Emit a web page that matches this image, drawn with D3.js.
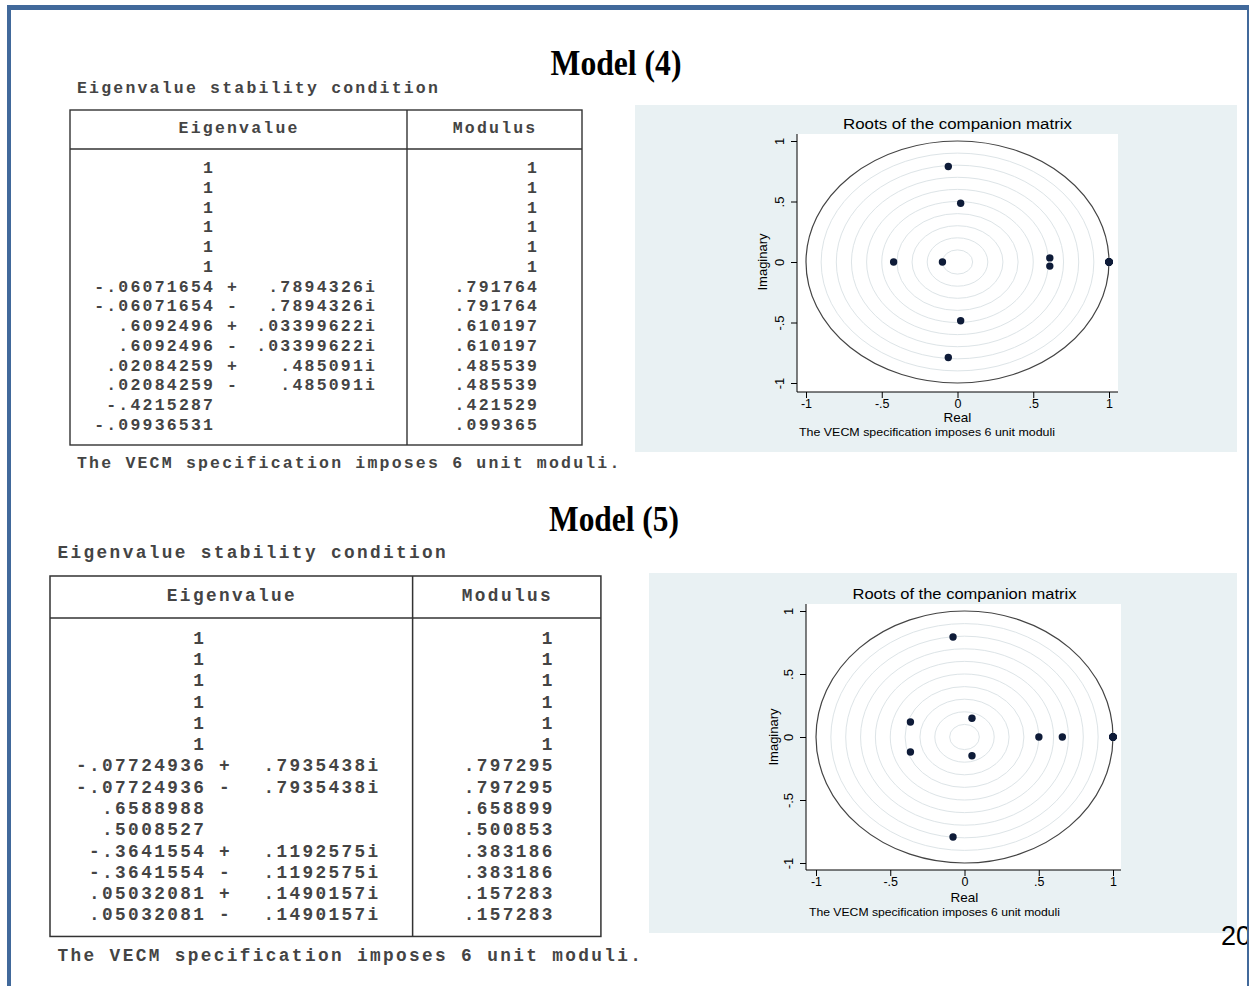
<!DOCTYPE html>
<html>
<head>
<meta charset="utf-8">
<script src="https://cdn.jsdelivr.net/npm/d3@7"></script>
<style>
  html, body { margin: 0; padding: 0; background: #fff; }
  svg { display: block; }
</style>
</head>
<body>
<div id="chart"></div>
<script>
// Model (4) eigenvalues: real part, imaginary part, modulus
const real4 = [1, 1, 1, 1, 1, 1, -.06071654, -.06071654, .6092496, .6092496, .02084259, .02084259, -.4215287, -.09936531];
const imag4 = [0, 0, 0, 0, 0, 0, .7894326, -.7894326, .03399622, -.03399622, .485091, -.485091, 0, 0];
const modulus4 = [1, 1, 1, 1, 1, 1, .791764, .791764, .610197, .610197, .485539, .485539, .421529, .099365];

// Model (5) eigenvalues
const real5 = [1, 1, 1, 1, 1, 1, -.07724936, -.07724936, .6588988, .5008527, -.3641554, -.3641554, .05032081, .05032081];
const imag5 = [0, 0, 0, 0, 0, 0, .7935438, -.7935438, 0, 0, .1192575, -.1192575, .1490157, -.1490157];
const modulus5 = [1, 1, 1, 1, 1, 1, .797295, .797295, .658899, .500853, .383186, .383186, .157283, .157283];

const axisTicks = [-1, -.5, 0, .5, 1];
const gridRadii = [.1, .2, .3, .4, .5, .6, .7, .8, .9];
const modelTitles = ['Model (4)', 'Model (5)'];
const tableTitle = 'Eigenvalue stability condition';
const tableHeaders = ['Eigenvalue', 'Modulus'];
const tableNote = 'The VECM specification imposes 6 unit moduli.';
const plotTitle = 'Roots of the companion matrix';
const plotNote = 'The VECM specification imposes 6 unit moduli';
const pageNumber = '20';

const W = 1249, H = 986;
const mono = "'Liberation Mono', 'Courier New', monospace";
const sans = "'Liberation Sans', Arial, sans-serif";
const serif = "'Liberation Serif', 'Times New Roman', serif";

// stata style numbers: drop leading zero
const fmt = v => String(v).replace(/^(-?)0\./, '$1.');

const svg = d3.select('#chart').append('svg')
  .attr('width', W)
  .attr('height', H);

svg.append('rect').attr('width', W).attr('height', H).attr('fill', '#fff');

// slide frame
const frame = '#41699b';
svg.append('rect').attr('x', 7).attr('y', 5).attr('width', W - 7).attr('height', 5).attr('fill', frame);
svg.append('rect').attr('x', 7).attr('y', 5).attr('width', 4).attr('height', H - 5).attr('fill', frame);

function drawTitle(label, cx, y, len) {
  svg.append('text')
    .attr('x', cx - len / 2)
    .attr('y', y)
    .attr('textLength', len)
    .attr('lengthAdjust', 'spacingAndGlyphs')
    .attr('font-family', serif)
    .attr('font-weight', 'bold')
    .attr('font-size', 35)
    .attr('fill', '#000')
    .text(label);
}

function drawTable(ox, oy, k, real, imag, modulus) {
  const g = svg.append('g').attr('transform', 'translate(' + ox + ',' + oy + ') scale(' + k + ')');
  const ink = '#333';
  const fs = 16.5;
  const ls = 12.1 - fs * 0.6; // courier-like advance with a smaller glyph
  const rowY = d3.scaleLinear().domain([0, real.length - 1]).range([63, 63 + 19.77 * (real.length - 1)]);

  const txt = (x, y, anchor, s) => g.append('text')
    .attr('x', anchor === 'end' ? x + ls : anchor === 'middle' ? x + ls / 2 : x)
    .attr('y', y)
    .attr('text-anchor', anchor)
    .attr('font-family', mono)
    .attr('font-size', fs)
    .attr('font-weight', 'bold')
    .attr('letter-spacing', ls)
    .attr('fill', '#444')
    .attr('xml:space', 'preserve')
    .text(s);

  txt(7, -17, 'start', tableTitle);
  txt(7, 358, 'start', tableNote);

  g.append('rect')
    .attr('x', 0).attr('y', 0).attr('width', 512).attr('height', 335)
    .attr('fill', 'none').attr('stroke', ink).attr('stroke-width', 1.4);
  g.append('line').attr('x1', 0).attr('x2', 512).attr('y1', 39).attr('y2', 39)
    .attr('stroke', ink).attr('stroke-width', 1.4);
  g.append('line').attr('x1', 337).attr('x2', 337).attr('y1', 0).attr('y2', 335)
    .attr('stroke', ink).attr('stroke-width', 1.4);

  txt(168, 23, 'middle', tableHeaders[0]);
  txt(424, 23, 'middle', tableHeaders[1]);

  real.forEach((r, i) => {
    const y = rowY(i);
    txt(143, y, 'end', fmt(r));
    if (imag[i] !== 0) {
      txt(162, y, 'middle', imag[i] > 0 ? '+' : '-');
      txt(305, y, 'end', fmt(Math.abs(imag[i])) + 'i');
    }
    txt(467, y, 'end', fmt(modulus[i]));
  });
}

function drawRoots(cfg, real, imag) {
  const g = svg.append('g');
  const x = d3.scaleLinear().domain([-1, 1]).range(cfg.xRange);
  const y = d3.scaleLinear().domain([-1, 1]).range(cfg.yRange);

  g.append('rect')
    .attr('x', cfg.panel[0]).attr('y', cfg.panel[1])
    .attr('width', cfg.panel[2] - cfg.panel[0]).attr('height', cfg.panel[3] - cfg.panel[1])
    .attr('fill', '#e9f1f3');
  g.append('rect')
    .attr('x', cfg.plot[0]).attr('y', cfg.plot[1])
    .attr('width', cfg.plot[2] - cfg.plot[0]).attr('height', cfg.plot[3] - cfg.plot[1])
    .attr('fill', '#fff');

  // grid rings
  g.selectAll('.ring').data(gridRadii).enter().append('ellipse')
    .attr('class', 'ring')
    .attr('cx', x(0)).attr('cy', y(0))
    .attr('rx', d => x(d) - x(0)).attr('ry', d => y(0) - y(d))
    .attr('fill', 'none').attr('stroke', '#dde4e7').attr('stroke-width', 1);

  // unit circle
  g.append('ellipse')
    .attr('cx', x(0)).attr('cy', y(0))
    .attr('rx', x(1) - x(0)).attr('ry', y(0) - y(1))
    .attr('fill', 'none').attr('stroke', '#444').attr('stroke-width', 1.2);

  // axes
  const yAxis = g.append('g')
    .attr('transform', 'translate(' + cfg.plot[0] + ',0)')
    .call(d3.axisLeft(y).tickValues(axisTicks).tickSize(6).tickFormat(fmt));
  yAxis.select('.domain').remove();
  yAxis.selectAll('text')
    .attr('transform', 'rotate(-90)')
    .attr('x', 0).attr('y', -13).attr('dy', 0)
    .attr('text-anchor', 'middle')
    .attr('font-family', sans).attr('font-size', 13).attr('fill', '#000');

  const xAxis = g.append('g')
    .attr('transform', 'translate(0,' + cfg.plot[3] + ')')
    .call(d3.axisBottom(x).tickValues(axisTicks).tickSize(6).tickPadding(1).tickFormat(fmt));
  xAxis.select('.domain').remove();
  xAxis.selectAll('text')
    .attr('font-family', sans).attr('font-size', 12.5).attr('fill', '#000');

  g.append('line')
    .attr('x1', cfg.plot[0]).attr('x2', cfg.plot[0]).attr('y1', cfg.plot[1]).attr('y2', cfg.plot[3])
    .attr('stroke', '#000').attr('stroke-width', 1);
  g.append('line')
    .attr('x1', cfg.plot[0]).attr('x2', cfg.plot[2]).attr('y1', cfg.plot[3]).attr('y2', cfg.plot[3])
    .attr('stroke', '#000').attr('stroke-width', 1);

  // roots
  g.selectAll('.dot').data(real.map((r, i) => ({ re: r, im: imag[i] }))).enter().append('circle')
    .attr('class', 'dot')
    .attr('cx', d => x(d.re)).attr('cy', d => y(d.im))
    .attr('r', 3.7)
    .attr('fill', '#0e1b38');

  // labels
  g.append('text')
    .attr('x', x(0) - cfg.titleLen / 2).attr('y', cfg.titleY)
    .attr('textLength', cfg.titleLen).attr('lengthAdjust', 'spacingAndGlyphs')
    .attr('font-family', sans).attr('font-size', 15.5).attr('fill', '#000')
    .text(plotTitle);
  g.append('text')
    .attr('x', x(0)).attr('y', cfg.realY)
    .attr('text-anchor', 'middle')
    .attr('font-family', sans).attr('font-size', 13.5).attr('fill', '#000')
    .text('Real');
  g.append('text')
    .attr('transform', 'translate(' + cfg.imagX + ',' + y(0) + ') rotate(-90)')
    .attr('text-anchor', 'middle')
    .attr('font-family', sans).attr('font-size', 13).attr('fill', '#000')
    .text('Imaginary');
  g.append('text')
    .attr('x', cfg.noteX).attr('y', cfg.noteY)
    .attr('textLength', cfg.noteLen).attr('lengthAdjust', 'spacingAndGlyphs')
    .attr('font-family', sans).attr('font-size', 11.5).attr('fill', '#000')
    .text(plotNote);
}

drawTitle(modelTitles[0], 616, 75, 131);
drawTitle(modelTitles[1], 614, 531, 130);

drawTable(70, 110, 1, real4, imag4, modulus4);
drawTable(50, 576, 1.076, real5, imag5, modulus5);

drawRoots({
  panel: [635, 105, 1237, 452],
  plot: [797, 134, 1118, 392],
  xRange: [806, 1109],
  yRange: [383, 141],
  titleY: 129, titleLen: 229,
  realY: 422, imagX: 767,
  noteX: 799, noteY: 436, noteLen: 256
}, real4, imag4);

drawRoots({
  panel: [649, 573, 1237, 933],
  plot: [806, 604, 1121, 870],
  xRange: [816, 1113],
  yRange: [863, 611],
  titleY: 599, titleLen: 224,
  realY: 902, imagX: 778,
  noteX: 809, noteY: 916, noteLen: 251
}, real5, imag5);

svg.append('text')
  .attr('x', 1221).attr('y', 945)
  .attr('font-family', sans).attr('font-size', 27).attr('fill', '#000')
  .text(pageNumber);
// right border drawn over the page number
svg.append('rect').attr('x', 1247).attr('y', 5).attr('width', 2).attr('height', H - 5).attr('fill', frame);
</script>
</body>
</html>
